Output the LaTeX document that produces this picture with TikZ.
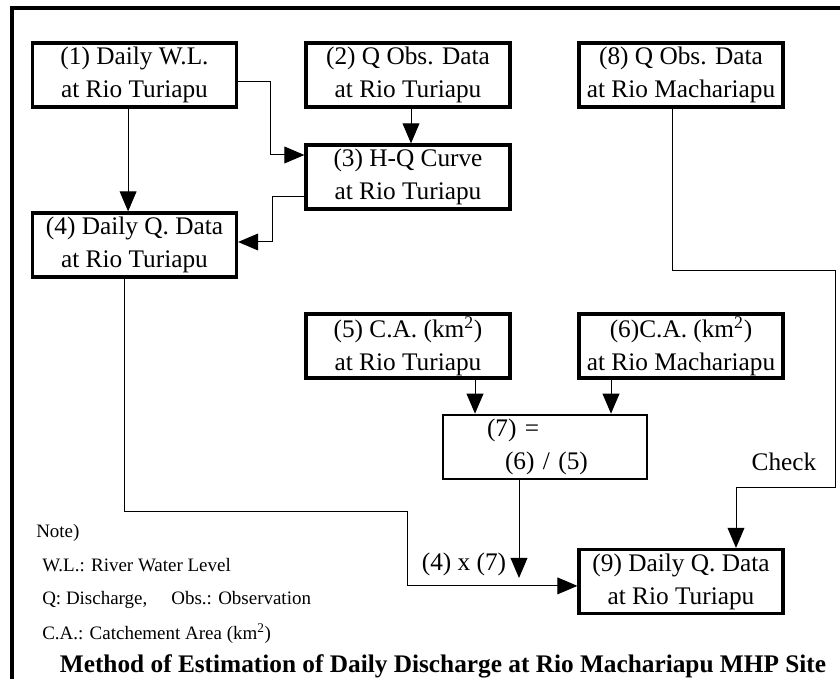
\documentclass[tikz,border=0pt]{standalone}
\usepackage{fontspec}
\setmainfont{Liberation Serif}
\usetikzlibrary{arrows.meta}
\tikzset{
  box/.style={draw, line width=0.08cm, minimum width=5.1cm, minimum height=1.6cm,
    inner sep=0pt, align=center, font=\fontsize{18}{23.4}\selectfont},
  flow/.style={line width=0.025cm, -{Triangle[length=0.5cm,width=0.42cm]}},
  tag/.style={font=\fontsize{18}{23.4}\selectfont, inner sep=0pt},
  note/.style={font=\fontsize{13.5}{16}\selectfont, inner sep=0pt, anchor=base west}
}
\begin{document}
\begin{tikzpicture}
                        \useasboundingbox (0.000000,0.000000) rectangle (21.000000,16.975000);
                        
                        % Drawing frame
                        \draw [line width=0.1cm] (0.300000,0.000000) |- (21.000000,16.775000);%
                        
                        % Drawing boxes
                        \node [box] (b1) at (3.362500,15.100000) {(1) Daily W.L.\\at Rio Turiapu};%
                        \node [box] (b2) at (10.200000,15.100000) {(2) Q Obs. Data\\at Rio Turiapu};%
                        \node [box] (b8) at (17.025000,15.100000) {(8) Q Obs. Data\\at Rio Machariapu};%
                        \node [box] (b3) at (10.200000,12.550000) {(3) H-Q Curve\\at Rio Turiapu};%
                        \node [box] (b4) at (3.362500,10.850000) {(4) Daily Q. Data\\at Rio Turiapu};%
                        \node [box] (b5) at (10.200000,8.325000) {(5) C.A. (km\textsuperscript{2})\\at Rio Turiapu};%
                        \node [box] (b6) at (17.025000,8.325000) {(6)C.A. (km\textsuperscript{2})\\at Rio Machariapu};%
                        \node [box, line width=0.065cm, text width=5.1cm, align=left] (b7) at (13.625000,5.800000)
                          {\hspace*{1.1cm}(7) =\\\hspace*{1.55cm}(6) / (5)};%
                        \node [box] (b9) at (17.025000,2.437500) {(9) Daily Q. Data\\at Rio Turiapu};%
                        
                        % Drawing bends
                        \coordinate (cA) at (10.175000,4.175000);%
                        \coordinate (c7) at (12.975000,2.525000);%
                        \coordinate (c8a) at (20.875000,10.200000);%
                        \coordinate (c8b) at (18.400000,4.775000);%
                        
                        % Drawing connectors
                        \draw [flow] ([xshift=-0.16cm]b1.south) -- ([xshift=-0.16cm]b4.north);%
                        \draw [flow] ([yshift=-0.175cm]b1.east) -- ++(0.8,0) |- ([yshift=0.55cm]b3.west);%
                        \draw [flow] ([xshift=0.075cm]b2.south) -- ([xshift=0.075cm]b3.north);%
                        \draw [flow] ([yshift=-0.5cm]b3.west) -- ++(-0.8,0) |- ([yshift=0.075cm]b4.east);%
                        \draw [flow] ([xshift=1.675cm]b5.south) -- ([xshift=1.675cm]b5.south |- b7.north);%
                        \draw [flow] ([xshift=-1.75cm]b6.south) -- ([xshift=-1.75cm]b6.south |- b7.north);%
                        \draw [flow] ([xshift=-0.65cm]b7.south) -- (c7);%
                        \draw [flow] ([xshift=-0.26cm]b4.south) |- (cA) |- ([yshift=-0.11cm]b9.west);%
                        \draw [flow] ([xshift=-0.225cm]b8.south) |- (c8a) |- (c8b) -- (c8b |- b9.north);%
                        
                        % Drawing labels
                        \node [tag] (mul) at (11.600000,2.875000) {(4) x (7)};%
                        \node [tag] (chk) at (19.600000,5.425000) {Check};%
                        
                        % Drawing notes
                        \node [note] (n0) at (0.900000,3.525000) {Note)};%
                        \node [note] (n1) at (1.050000,2.675000) {W.L.: River Water Level};%
                        \node [note] (n2) at (1.050000,1.850000) {Q: Discharge,\hspace{0.6cm}Obs.: Observation};%
                        \node [note] (n3) at (1.050000,0.975000) {C.A.: Catchement Area (km\textsuperscript{2})};%
                        \node [tag, anchor=base, font=\fontsize{18}{23.4}\selectfont\bfseries] (title) at (11.075000,0.150000)
                          {Method of Estimation of Daily Discharge at Rio Machariapu MHP Site};%
\end{tikzpicture}
\end{document}
